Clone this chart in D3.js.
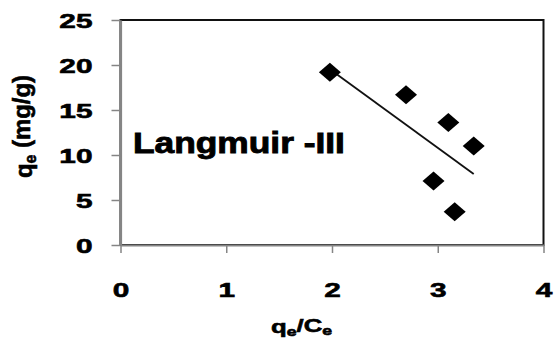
<!DOCTYPE html>
<html>
<head>
<meta charset="utf-8">
<script src="https://cdn.jsdelivr.net/npm/d3@7"></script>
<style>
  html, body { margin: 0; padding: 0; background: #fff; }
  svg { display: block; }
  text { font-family: "Liberation Sans", Arial, sans-serif; font-weight: bold; fill: #000; stroke: #000; stroke-width: 0.6px; }
</style>
</head>
<body>
<svg id="chart" width="554" height="343"></svg>
<script>
// Langmuir-III linearisation: qe against qe/Ce
const qeOverCe = [1.98, 2.70, 3.10, 3.34, 2.96, 3.16];
const qe       = [19.2, 16.7, 13.6, 11.0, 7.1, 3.7];
const xTicks = [0, 1, 2, 3, 4];
const yTicks = [0, 5, 10, 15, 20, 25];
const panelLabel = "Langmuir -III";

const svg = d3.select("#chart");
const plot = { left: 120.5, right: 543.5, top: 20, bottom: 245 };

const x = d3.scaleLinear().domain([0, 4]).range([plot.left, plot.right]);
const y = d3.scaleLinear().domain([0, 25]).range([plot.bottom, plot.top]);

svg.append("rect").attr("width", 554).attr("height", 343).attr("fill", "#fff");

// plot frame
svg.append("rect")
  .attr("x", plot.left).attr("y", plot.top)
  .attr("width", plot.right - plot.left).attr("height", plot.bottom - plot.top)
  .attr("fill", "none").attr("stroke", "#111").attr("stroke-width", 2);

// stretch a text node horizontally (in its own frame) by a factor
function stretch(sel, sx, tx, ty) {
  sel.attr("transform", `translate(${tx},${ty}) scale(${sx},1)`);
}
function fitWidth(sel, width, tx, ty) {
  const w = sel.node().getComputedTextLength();
  stretch(sel, width / w, tx, ty);
}

const axisGrey = "#858585";
const fmt = d3.format("d");

// y axis
const gy = svg.append("g").attr("transform", `translate(${plot.left},0)`)
  .call(d3.axisLeft(y).tickValues(yTicks).tickFormat(fmt).tickSize(9).tickSizeOuter(0));
gy.select(".domain").attr("stroke", axisGrey).attr("stroke-width", 2.2);
gy.selectAll(".tick line").attr("stroke", axisGrey).attr("stroke-width", 1.5);
gy.selectAll(".tick text")
  .attr("x", 0).attr("dy", "0.36em").attr("text-anchor", "end")
  .style("font-size", "21px").attr("fill", "#000")
  .each(function () { stretch(d3.select(this), 1.42, -28, 0); });

// x axis
const gx = svg.append("g").attr("transform", `translate(0,${plot.bottom})`)
  .call(d3.axisBottom(x).tickValues(xTicks).tickFormat(fmt).tickSize(8).tickSizeOuter(0));
gx.select(".domain").attr("stroke", axisGrey).attr("stroke-width", 2.2);
gx.selectAll(".tick line").attr("stroke", axisGrey).attr("stroke-width", 1.5);
gx.selectAll(".tick text")
  .attr("y", 0).attr("dy", 0).attr("text-anchor", "middle")
  .style("font-size", "21px").attr("fill", "#000")
  .each(function () { stretch(d3.select(this), 1.42, 0, 52); });

// least-squares trend line over the data range
const mx = d3.mean(qeOverCe), my = d3.mean(qe);
const slope = d3.sum(qeOverCe, (v, i) => (v - mx) * (qe[i] - my)) /
              d3.sum(qeOverCe, v => (v - mx) * (v - mx));
const intercept = my - slope * mx;
const [x0, x1] = d3.extent(qeOverCe);
svg.append("line")
  .attr("x1", x(x0)).attr("y1", y(slope * x0 + intercept))
  .attr("x2", x(x1)).attr("y2", y(slope * x1 + intercept))
  .attr("stroke", "#111").attr("stroke-width", 1.8);

// diamond markers
const hw = 11, hh = 9.5;
svg.append("g").selectAll("path")
  .data(qeOverCe.map((v, i) => [v, qe[i]]))
  .join("path")
  .attr("transform", d => `translate(${x(d[0])},${y(d[1])})`)
  .attr("d", `M0,${-hh}L${hw},0L0,${hh}L${-hw},0Z`)
  .attr("fill", "#000");

// panel label
const lab = svg.append("text").attr("text-anchor", "start")
  .style("font-size", "30px").style("stroke-width", "0.9px").text(panelLabel);
fitWidth(lab, 212, 133, 153);

// x title: qe/Ce
const xt = svg.append("text").attr("text-anchor", "middle").style("font-size", "19px");
xt.append("tspan").text("q");
xt.append("tspan").attr("dy", "0.22em").style("font-size", "13px").text("e");
xt.append("tspan").attr("dy", "-0.22em").text("/C");
xt.append("tspan").attr("dy", "0.22em").style("font-size", "13px").text("e");
fitWidth(xt, 61, 301.5, 333);

// y title: qe (mg/g)
const yt = svg.append("text").attr("text-anchor", "middle").style("font-size", "24px");
yt.append("tspan").text("q");
yt.append("tspan").attr("dy", "0.22em").style("font-size", "16px").text("e");
yt.append("tspan").attr("dy", "-0.22em").text(" (mg/g)");
{
  const w = yt.node().getComputedTextLength();
  yt.attr("transform", `translate(32,126.5) rotate(-90) scale(${103 / w},1)`);
}
</script>
</body>
</html>
